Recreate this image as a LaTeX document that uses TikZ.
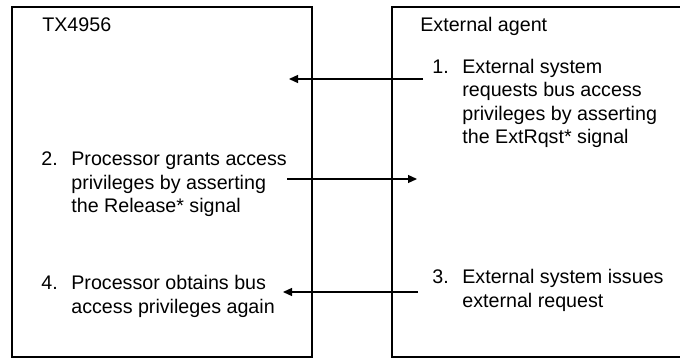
\documentclass[tikz,border=0pt]{standalone}
\usepackage{fontspec}
\setmainfont{Liberation Sans}
\usetikzlibrary{arrows.meta}

\newcommand{\stepno}[1]{\llap{\makebox[0.6cm][l]{#1}}}

\begin{document}
\begin{tikzpicture}[x=0.02cm, y=-0.02cm, >={Triangle[length=0.18cm, width=0.16cm]},
    side/.style={line width=0.8pt},
    msg/.style={->, line width=0.7pt},
    txt/.style={inner sep=0pt, anchor=base west, align=left, font=\fontsize{11.2}{13.4}\selectfont}]
    \useasboundingbox (0,0) rectangle (680,358);
    % the two sides
    \draw[side] (12,7) rectangle (312,357);
    \draw[side] (680,7) -- (392,7) -- (392,357) -- (680,357);
    \node[txt] (tx) at (42,32) {TX4956};
    \node[txt] (ext) at (420,32) {External agent};
    % steps (text nodes sit on their last line)
    \node[txt] (s1) at (462,144) {\stepno{1.}External system\\requests bus access\\privileges by asserting\\the ExtRqst* signal};
    \node[txt] (s2) at (71,213) {\stepno{2.}Processor grants access\\privileges by asserting\\the Release* signal};
    \node[txt] (s3) at (462,307) {\stepno{3.}External system issues\\external request};
    \node[txt] (s4) at (71,313) {\stepno{4.}Processor obtains bus\\access privileges again};
    % messages
    \coordinate (a1) at (423,79);
    \coordinate (b1) at (289,79);
    \coordinate (a2) at (287,179);
    \coordinate (b2) at (417,179);
    \coordinate (a3) at (418,292);
    \coordinate (b3) at (283,292);
    \draw[msg] (a1) -- (b1);
    \draw[msg] (a2) -- (b2);
    \draw[msg] (a3) -- (b3);
\end{tikzpicture}
\end{document}
